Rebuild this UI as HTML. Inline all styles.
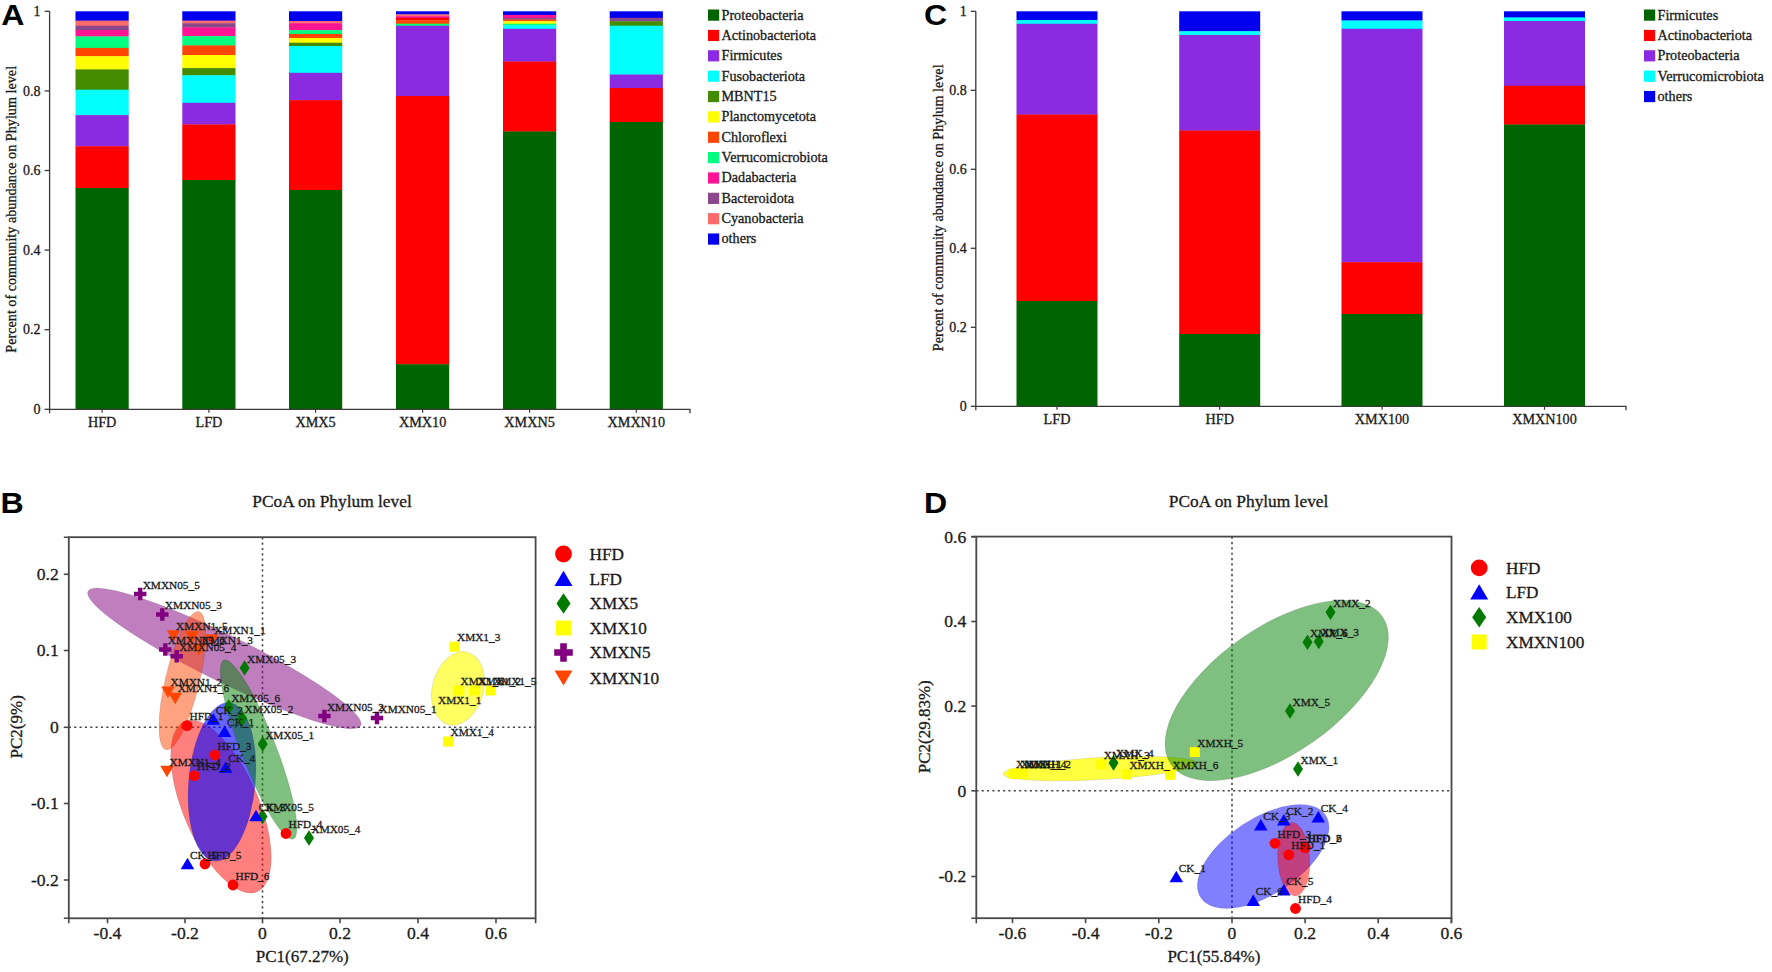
<!DOCTYPE html>
<html lang="en"><head><meta charset="utf-8"><title>Figure</title>
<style>
html,body{margin:0;padding:0;background:#fff;}
body{width:1772px;height:972px;overflow:hidden;}
svg{display:block;position:absolute;left:0;top:0;}
svg text{font-family:"Liberation Serif", "DejaVu Serif", serif;fill:#1a1a1a;stroke:#1a1a1a;stroke-width:0.3px;}
</style></head><body>
<svg width="1772" height="972" viewBox="0 0 1772 972">
<rect x="0" y="0" width="1772" height="972" fill="#ffffff"/>
<rect x="75.50" y="11.30" width="53.20" height="9.65" fill="#0000ee"/>
<rect x="75.50" y="20.65" width="53.20" height="5.35" fill="#ff6a6a"/>
<rect x="75.50" y="25.70" width="53.20" height="4.60" fill="#8b4789"/>
<rect x="75.50" y="30.00" width="53.20" height="6.70" fill="#ff1493"/>
<rect x="75.50" y="36.40" width="53.20" height="11.80" fill="#00ff7f"/>
<rect x="75.50" y="47.90" width="53.20" height="8.60" fill="#ff4500"/>
<rect x="75.50" y="56.20" width="53.20" height="13.50" fill="#ffff00"/>
<rect x="75.50" y="69.40" width="53.20" height="20.60" fill="#458b00"/>
<rect x="75.50" y="89.70" width="53.20" height="25.70" fill="#00ffff"/>
<rect x="75.50" y="115.10" width="53.20" height="31.45" fill="#8a2be2"/>
<rect x="75.50" y="146.25" width="53.20" height="42.05" fill="#ff0000"/>
<rect x="75.50" y="188.00" width="53.20" height="221.60" fill="#006400"/>
<rect x="182.30" y="11.30" width="53.20" height="9.65" fill="#0000ee"/>
<rect x="182.30" y="20.65" width="53.20" height="2.85" fill="#ff6a6a"/>
<rect x="182.30" y="23.20" width="53.20" height="4.50" fill="#8b4789"/>
<rect x="182.30" y="27.40" width="53.20" height="9.00" fill="#ff1493"/>
<rect x="182.30" y="36.10" width="53.20" height="9.60" fill="#00ff7f"/>
<rect x="182.30" y="45.40" width="53.20" height="9.90" fill="#ff4500"/>
<rect x="182.30" y="55.00" width="53.20" height="13.40" fill="#ffff00"/>
<rect x="182.30" y="68.10" width="53.20" height="7.50" fill="#458b00"/>
<rect x="182.30" y="75.30" width="53.20" height="27.80" fill="#00ffff"/>
<rect x="182.30" y="102.80" width="53.20" height="21.90" fill="#8a2be2"/>
<rect x="182.30" y="124.40" width="53.20" height="55.90" fill="#ff0000"/>
<rect x="182.30" y="180.00" width="53.20" height="229.60" fill="#006400"/>
<rect x="289.00" y="11.30" width="53.20" height="10.00" fill="#0000ee"/>
<rect x="289.00" y="21.00" width="53.20" height="2.50" fill="#ff6a6a"/>
<rect x="289.00" y="23.20" width="53.20" height="7.20" fill="#ff1493"/>
<rect x="289.00" y="30.10" width="53.20" height="4.10" fill="#00ff7f"/>
<rect x="289.00" y="33.90" width="53.20" height="4.50" fill="#ff4500"/>
<rect x="289.00" y="38.10" width="53.20" height="4.90" fill="#ffff00"/>
<rect x="289.00" y="42.70" width="53.20" height="3.60" fill="#458b00"/>
<rect x="289.00" y="46.00" width="53.20" height="27.10" fill="#00ffff"/>
<rect x="289.00" y="72.80" width="53.20" height="27.70" fill="#8a2be2"/>
<rect x="289.00" y="100.20" width="53.20" height="90.10" fill="#ff0000"/>
<rect x="289.00" y="190.00" width="53.20" height="219.60" fill="#006400"/>
<rect x="396.00" y="11.30" width="53.20" height="3.40" fill="#0000ee"/>
<rect x="396.00" y="14.40" width="53.20" height="2.10" fill="#ff6a6a"/>
<rect x="396.00" y="16.20" width="53.20" height="1.90" fill="#ff1493"/>
<rect x="396.00" y="17.80" width="53.20" height="2.80" fill="#ff0000"/>
<rect x="396.00" y="20.30" width="53.20" height="3.70" fill="#ff4500"/>
<rect x="396.00" y="23.70" width="53.20" height="2.30" fill="#00ff7f"/>
<rect x="396.00" y="25.70" width="53.20" height="70.60" fill="#8a2be2"/>
<rect x="396.00" y="96.00" width="53.20" height="268.55" fill="#ff0000"/>
<rect x="396.00" y="364.25" width="53.20" height="45.35" fill="#006400"/>
<rect x="503.00" y="11.30" width="53.20" height="3.90" fill="#0000ee"/>
<rect x="503.00" y="14.90" width="53.20" height="3.20" fill="#ff1493"/>
<rect x="503.00" y="17.80" width="53.20" height="2.00" fill="#8b4789"/>
<rect x="503.00" y="19.50" width="53.20" height="2.00" fill="#ff4500"/>
<rect x="503.00" y="21.20" width="53.20" height="2.80" fill="#ffff00"/>
<rect x="503.00" y="23.70" width="53.20" height="2.00" fill="#00ff7f"/>
<rect x="503.00" y="25.40" width="53.20" height="3.70" fill="#00ffff"/>
<rect x="503.00" y="28.80" width="53.20" height="33.00" fill="#8a2be2"/>
<rect x="503.00" y="61.50" width="53.20" height="70.30" fill="#ff0000"/>
<rect x="503.00" y="131.50" width="53.20" height="278.10" fill="#006400"/>
<rect x="609.70" y="11.30" width="53.20" height="6.80" fill="#0000ee"/>
<rect x="609.70" y="17.80" width="53.20" height="3.70" fill="#8b4789"/>
<rect x="609.70" y="21.20" width="53.20" height="4.80" fill="#458b00"/>
<rect x="609.70" y="25.70" width="53.20" height="49.10" fill="#00ffff"/>
<rect x="609.70" y="74.50" width="53.20" height="13.80" fill="#8a2be2"/>
<rect x="609.70" y="88.00" width="53.20" height="34.30" fill="#ff0000"/>
<rect x="609.70" y="122.00" width="53.20" height="287.60" fill="#006400"/>
<path d="M49.6 11.3 V409.3 H690 v4" fill="none" stroke="#3a3a3a" stroke-width="1.3"/>
<path d="M44.6 409.30 H49.6" stroke="#3a3a3a" stroke-width="1.3"/>
<text x="40.6" y="413.90" text-anchor="end" font-size="14">0</text>
<path d="M44.6 329.70 H49.6" stroke="#3a3a3a" stroke-width="1.3"/>
<text x="40.6" y="334.30" text-anchor="end" font-size="14">0.2</text>
<path d="M44.6 250.10 H49.6" stroke="#3a3a3a" stroke-width="1.3"/>
<text x="40.6" y="254.70" text-anchor="end" font-size="14">0.4</text>
<path d="M44.6 170.50 H49.6" stroke="#3a3a3a" stroke-width="1.3"/>
<text x="40.6" y="175.10" text-anchor="end" font-size="14">0.6</text>
<path d="M44.6 90.90 H49.6" stroke="#3a3a3a" stroke-width="1.3"/>
<text x="40.6" y="95.50" text-anchor="end" font-size="14">0.8</text>
<path d="M44.6 11.30 H49.6" stroke="#3a3a3a" stroke-width="1.3"/>
<text x="40.6" y="15.90" text-anchor="end" font-size="14">1</text>
<path d="M49.6 409.3 v4" stroke="#3a3a3a" stroke-width="1.3"/>
<path d="M102.10 409.3 v3.5" stroke="#3a3a3a" stroke-width="1.2"/>
<text x="102.10" y="427" text-anchor="middle" font-size="14.2">HFD</text>
<path d="M208.90 409.3 v3.5" stroke="#3a3a3a" stroke-width="1.2"/>
<text x="208.90" y="427" text-anchor="middle" font-size="14.2">LFD</text>
<path d="M315.60 409.3 v3.5" stroke="#3a3a3a" stroke-width="1.2"/>
<text x="315.60" y="427" text-anchor="middle" font-size="14.2">XMX5</text>
<path d="M422.60 409.3 v3.5" stroke="#3a3a3a" stroke-width="1.2"/>
<text x="422.60" y="427" text-anchor="middle" font-size="14.2">XMX10</text>
<path d="M529.60 409.3 v3.5" stroke="#3a3a3a" stroke-width="1.2"/>
<text x="529.60" y="427" text-anchor="middle" font-size="14.2">XMXN5</text>
<path d="M636.30 409.3 v3.5" stroke="#3a3a3a" stroke-width="1.2"/>
<text x="636.30" y="427" text-anchor="middle" font-size="14.2">XMXN10</text>
<text transform="translate(16 209.3) rotate(-90)" text-anchor="middle" font-size="14.2">Percent of community abundance on Phylum level</text>
<rect x="708" y="9.50" width="11.2" height="11.2" fill="#006400"/>
<text x="721.5" y="19.50" font-size="14.2">Proteobacteria</text>
<rect x="708" y="29.86" width="11.2" height="11.2" fill="#ff0000"/>
<text x="721.5" y="39.86" font-size="14.2">Actinobacteriota</text>
<rect x="708" y="50.22" width="11.2" height="11.2" fill="#8a2be2"/>
<text x="721.5" y="60.22" font-size="14.2">Firmicutes</text>
<rect x="708" y="70.58" width="11.2" height="11.2" fill="#00ffff"/>
<text x="721.5" y="80.58" font-size="14.2">Fusobacteriota</text>
<rect x="708" y="90.94" width="11.2" height="11.2" fill="#458b00"/>
<text x="721.5" y="100.94" font-size="14.2">MBNT15</text>
<rect x="708" y="111.30" width="11.2" height="11.2" fill="#ffff00"/>
<text x="721.5" y="121.30" font-size="14.2">Planctomycetota</text>
<rect x="708" y="131.66" width="11.2" height="11.2" fill="#ff4500"/>
<text x="721.5" y="141.66" font-size="14.2">Chloroflexi</text>
<rect x="708" y="152.02" width="11.2" height="11.2" fill="#00ff7f"/>
<text x="721.5" y="162.02" font-size="14.2">Verrucomicrobiota</text>
<rect x="708" y="172.38" width="11.2" height="11.2" fill="#ff1493"/>
<text x="721.5" y="182.38" font-size="14.2">Dadabacteria</text>
<rect x="708" y="192.74" width="11.2" height="11.2" fill="#8b4789"/>
<text x="721.5" y="202.74" font-size="14.2">Bacteroidota</text>
<rect x="708" y="213.10" width="11.2" height="11.2" fill="#ff6a6a"/>
<text x="721.5" y="223.10" font-size="14.2">Cyanobacteria</text>
<rect x="708" y="233.46" width="11.2" height="11.2" fill="#0000ee"/>
<text x="721.5" y="243.46" font-size="14.2">others</text>
<rect x="1016.50" y="11.30" width="81.00" height="9.00" fill="#0000ee"/>
<rect x="1016.50" y="20.00" width="81.00" height="4.05" fill="#00ffff"/>
<rect x="1016.50" y="23.75" width="81.00" height="91.05" fill="#8a2be2"/>
<rect x="1016.50" y="114.50" width="81.00" height="186.80" fill="#ff0000"/>
<rect x="1016.50" y="301.00" width="81.00" height="105.60" fill="#006400"/>
<rect x="1179.20" y="11.30" width="81.00" height="20.25" fill="#0000ee"/>
<rect x="1179.20" y="31.25" width="81.00" height="4.05" fill="#00ffff"/>
<rect x="1179.20" y="35.00" width="81.00" height="95.80" fill="#8a2be2"/>
<rect x="1179.20" y="130.50" width="81.00" height="203.80" fill="#ff0000"/>
<rect x="1179.20" y="334.00" width="81.00" height="72.60" fill="#006400"/>
<rect x="1341.50" y="11.30" width="81.00" height="9.50" fill="#0000ee"/>
<rect x="1341.50" y="20.50" width="81.00" height="8.55" fill="#00ffff"/>
<rect x="1341.50" y="28.75" width="81.00" height="233.80" fill="#8a2be2"/>
<rect x="1341.50" y="262.25" width="81.00" height="52.05" fill="#ff0000"/>
<rect x="1341.50" y="314.00" width="81.00" height="92.60" fill="#006400"/>
<rect x="1504.00" y="11.30" width="81.00" height="6.50" fill="#0000ee"/>
<rect x="1504.00" y="17.50" width="81.00" height="3.80" fill="#00ffff"/>
<rect x="1504.00" y="21.00" width="81.00" height="65.05" fill="#8a2be2"/>
<rect x="1504.00" y="85.75" width="81.00" height="39.05" fill="#ff0000"/>
<rect x="1504.00" y="124.50" width="81.00" height="282.10" fill="#006400"/>
<path d="M975.8 11.3 V406.3 H1626 v4" fill="none" stroke="#3a3a3a" stroke-width="1.3"/>
<path d="M970.8 406.30 H975.8" stroke="#3a3a3a" stroke-width="1.3"/>
<text x="966.8" y="410.90" text-anchor="end" font-size="14">0</text>
<path d="M970.8 327.30 H975.8" stroke="#3a3a3a" stroke-width="1.3"/>
<text x="966.8" y="331.90" text-anchor="end" font-size="14">0.2</text>
<path d="M970.8 248.30 H975.8" stroke="#3a3a3a" stroke-width="1.3"/>
<text x="966.8" y="252.90" text-anchor="end" font-size="14">0.4</text>
<path d="M970.8 169.30 H975.8" stroke="#3a3a3a" stroke-width="1.3"/>
<text x="966.8" y="173.90" text-anchor="end" font-size="14">0.6</text>
<path d="M970.8 90.30 H975.8" stroke="#3a3a3a" stroke-width="1.3"/>
<text x="966.8" y="94.90" text-anchor="end" font-size="14">0.8</text>
<path d="M970.8 11.30 H975.8" stroke="#3a3a3a" stroke-width="1.3"/>
<text x="966.8" y="15.90" text-anchor="end" font-size="14">1</text>
<path d="M975.8 406.3 v4" stroke="#3a3a3a" stroke-width="1.3"/>
<path d="M1057.00 406.3 v3.5" stroke="#3a3a3a" stroke-width="1.2"/>
<text x="1057.00" y="423.5" text-anchor="middle" font-size="14.2">LFD</text>
<path d="M1219.70 406.3 v3.5" stroke="#3a3a3a" stroke-width="1.2"/>
<text x="1219.70" y="423.5" text-anchor="middle" font-size="14.2">HFD</text>
<path d="M1382.00 406.3 v3.5" stroke="#3a3a3a" stroke-width="1.2"/>
<text x="1382.00" y="423.5" text-anchor="middle" font-size="14.2">XMX100</text>
<path d="M1544.50 406.3 v3.5" stroke="#3a3a3a" stroke-width="1.2"/>
<text x="1544.50" y="423.5" text-anchor="middle" font-size="14.2">XMXN100</text>
<text transform="translate(943 207.8) rotate(-90)" text-anchor="middle" font-size="14.2">Percent of community abundance on Phylum level</text>
<rect x="1644" y="9.50" width="11.2" height="11.2" fill="#006400"/>
<text x="1657.5" y="19.50" font-size="14.2">Firmicutes</text>
<rect x="1644" y="29.86" width="11.2" height="11.2" fill="#ff0000"/>
<text x="1657.5" y="39.86" font-size="14.2">Actinobacteriota</text>
<rect x="1644" y="50.22" width="11.2" height="11.2" fill="#8a2be2"/>
<text x="1657.5" y="60.22" font-size="14.2">Proteobacteria</text>
<rect x="1644" y="70.58" width="11.2" height="11.2" fill="#00ffff"/>
<text x="1657.5" y="80.58" font-size="14.2">Verrucomicrobiota</text>
<rect x="1644" y="90.94" width="11.2" height="11.2" fill="#0000ee"/>
<text x="1657.5" y="100.94" font-size="14.2">others</text>
<text transform="translate(1.2 24.7) scale(1.07 1)" style='font-family:"Liberation Sans", "DejaVu Sans", sans-serif;font-weight:bold;font-size:30px;fill:#000;stroke:none'>A</text>
<text transform="translate(924 24.7) scale(1.07 1)" style='font-family:"Liberation Sans", "DejaVu Sans", sans-serif;font-weight:bold;font-size:30px;fill:#000;stroke:none'>C</text>
<text transform="translate(0.5 512.7) scale(1.07 1)" style='font-family:"Liberation Sans", "DejaVu Sans", sans-serif;font-weight:bold;font-size:30px;fill:#000;stroke:none'>B</text>
<text transform="translate(924 512.7) scale(1.07 1)" style='font-family:"Liberation Sans", "DejaVu Sans", sans-serif;font-weight:bold;font-size:30px;fill:#000;stroke:none'>D</text>
<path d="M262.5 537.2 V918.3" stroke="#484848" stroke-width="1.6" stroke-dasharray="2.2 3.15"/>
<path d="M68.8 727.3 H535.6" stroke="#484848" stroke-width="1.6" stroke-dasharray="2.2 3.15"/>
<ellipse cx="0" cy="0" rx="152" ry="23.3" transform="translate(224.4 658.4) rotate(26.2)" fill="#800080" fill-opacity="0.5" stroke="#000" stroke-opacity="0.12" stroke-width="0.8"/>
<ellipse cx="0" cy="0" rx="71" ry="17.1" transform="translate(182.4 680.6) rotate(-76.6)" fill="#ff4500" fill-opacity="0.5" stroke="#000" stroke-opacity="0.12" stroke-width="0.8"/>
<ellipse cx="0" cy="0" rx="92.5" ry="37.9" transform="translate(221 806.6) rotate(67)" fill="#ff0000" fill-opacity="0.5" stroke="#000" stroke-opacity="0.12" stroke-width="0.8"/>
<ellipse cx="0" cy="0" rx="79.6" ry="33.3" transform="translate(222 781.8) rotate(-84.7)" fill="#0000ff" fill-opacity="0.6" stroke="#000" stroke-opacity="0.12" stroke-width="0.8"/>
<ellipse cx="0" cy="0" rx="96" ry="17.5" transform="translate(258.6 749.6) rotate(68.8)" fill="#008000" fill-opacity="0.5" stroke="#000" stroke-opacity="0.12" stroke-width="0.8"/>
<ellipse cx="0" cy="0" rx="37.5" ry="25.5" transform="translate(458 688.4) rotate(-75)" fill="#ffff00" fill-opacity="0.62" stroke="#000" stroke-opacity="0.12" stroke-width="0.8"/>
<rect x="68.8" y="537.2" width="466.8" height="381.0999999999999" fill="none" stroke="#484848" stroke-width="1.8"/>
<path d="M107.5 918.3 v5" stroke="#484848" stroke-width="1.6"/>
<text x="107.5" y="939.1" text-anchor="middle" font-size="17.6" stroke-width="0.5">-0.4</text>
<path d="M185.0 918.3 v5" stroke="#484848" stroke-width="1.6"/>
<text x="185.0" y="939.1" text-anchor="middle" font-size="17.6" stroke-width="0.5">-0.2</text>
<path d="M262.5 918.3 v5" stroke="#484848" stroke-width="1.6"/>
<text x="262.5" y="939.1" text-anchor="middle" font-size="17.6" stroke-width="0.5">0</text>
<path d="M340.0 918.3 v5" stroke="#484848" stroke-width="1.6"/>
<text x="340.0" y="939.1" text-anchor="middle" font-size="17.6" stroke-width="0.5">0.2</text>
<path d="M418.0 918.3 v5" stroke="#484848" stroke-width="1.6"/>
<text x="418.0" y="939.1" text-anchor="middle" font-size="17.6" stroke-width="0.5">0.4</text>
<path d="M496.0 918.3 v5" stroke="#484848" stroke-width="1.6"/>
<text x="496.0" y="939.1" text-anchor="middle" font-size="17.6" stroke-width="0.5">0.6</text>
<path d="M63.8 574.3 H68.8" stroke="#484848" stroke-width="1.6"/>
<text x="58.8" y="580.2" text-anchor="end" font-size="17.6" stroke-width="0.5">0.2</text>
<path d="M63.8 650.5 H68.8" stroke="#484848" stroke-width="1.6"/>
<text x="58.8" y="656.4" text-anchor="end" font-size="17.6" stroke-width="0.5">0.1</text>
<path d="M63.8 727.3 H68.8" stroke="#484848" stroke-width="1.6"/>
<text x="58.8" y="733.2" text-anchor="end" font-size="17.6" stroke-width="0.5">0</text>
<path d="M63.8 803.5 H68.8" stroke="#484848" stroke-width="1.6"/>
<text x="58.8" y="809.4" text-anchor="end" font-size="17.6" stroke-width="0.5">-0.1</text>
<path d="M63.8 880.0 H68.8" stroke="#484848" stroke-width="1.6"/>
<text x="58.8" y="885.9" text-anchor="end" font-size="17.6" stroke-width="0.5">-0.2</text>
<path d="M63.8 537.2 H68.8 M63.8 918.3 H68.8 v5 M535.6 918.3 v5" stroke="#484848" stroke-width="1.6" fill="none"/>
<text x="332.0" y="507.2" text-anchor="middle" font-size="17.35">PCoA on Phylum level</text>
<text x="302.2" y="962" text-anchor="middle" font-size="17">PC1(67.27%)</text>
<text transform="translate(22 726.8) rotate(-90)" text-anchor="middle" font-size="17">PC2(9%)</text>
<path d="M134.0 591.8 H138.0 V587.8 H142.4 V591.8 H146.4 V596.2 H142.4 V600.2 H138.0 V596.2 H134.0 Z" fill="#800080"/>
<path d="M156.1 612.3 H160.1 V608.3 H164.5 V612.3 H168.5 V616.7 H164.5 V620.7 H160.1 V616.7 H156.1 Z" fill="#800080"/>
<path d="M159.1 647.3 H163.1 V643.3 H167.5 V647.3 H171.5 V651.7 H167.5 V655.7 H163.1 V651.7 H159.1 Z" fill="#800080"/>
<path d="M170.5 654.1 H174.5 V650.1 H178.9 V654.1 H182.9 V658.5 H178.9 V662.5 H174.5 V658.5 H170.5 Z" fill="#800080"/>
<path d="M318.2 713.8 H322.2 V709.8 H326.6 V713.8 H330.6 V718.2 H326.6 V722.2 H322.2 V718.2 H318.2 Z" fill="#800080"/>
<path d="M370.8 715.8 H374.8 V711.8 H379.2 V715.8 H383.2 V720.2 H379.2 V724.2 H374.8 V720.2 H370.8 Z" fill="#800080"/>
<path d="M166.8 630.3 L180.4 630.3 L173.6 641.8 Z" fill="#ff4500"/>
<path d="M185.2 631.3 L198.8 631.3 L192.0 642.8 Z" fill="#ff4500"/>
<path d="M204.9 634.2 L218.5 634.2 L211.7 645.7 Z" fill="#ff4500"/>
<path d="M192.2 643.8 L205.8 643.8 L199.0 655.3 Z" fill="#ff4500"/>
<path d="M161.2 686.5 L174.8 686.5 L168.0 698.0 Z" fill="#ff4500"/>
<path d="M168.4 692.7 L182.0 692.7 L175.2 704.2 Z" fill="#ff4500"/>
<path d="M160.2 765.8 L173.8 765.8 L167.0 777.3 Z" fill="#ff4500"/>
<path d="M239.6 668.0 L244.6 660.2 L249.6 668.0 L244.6 675.8 Z" fill="#007a00"/>
<path d="M223.7 707.0 L228.7 699.2 L233.7 707.0 L228.7 714.8 Z" fill="#007a00"/>
<path d="M237.0 718.4 L242.0 710.6 L247.0 718.4 L242.0 726.2 Z" fill="#007a00"/>
<path d="M257.7 744.0 L262.7 736.2 L267.7 744.0 L262.7 751.8 Z" fill="#007a00"/>
<path d="M257.5 816.5 L262.5 808.7 L267.5 816.5 L262.5 824.3 Z" fill="#007a00"/>
<path d="M304.0 838.0 L309.0 830.2 L314.0 838.0 L309.0 845.8 Z" fill="#007a00"/>
<path d="M206.5 724.7 L220.1 724.7 L213.3 713.2 Z" fill="#0000ff"/>
<path d="M217.8 737.0 L231.4 737.0 L224.6 725.5 Z" fill="#0000ff"/>
<path d="M218.9 772.9 L232.5 772.9 L225.7 761.4 Z" fill="#0000ff"/>
<path d="M249.2 821.2 L262.8 821.2 L256.0 809.7 Z" fill="#0000ff"/>
<path d="M180.7 869.2 L194.3 869.2 L187.5 857.7 Z" fill="#0000ff"/>
<circle cx="187.0" cy="725.6" r="5.40" fill="#ff0000"/>
<circle cx="215.0" cy="755.0" r="5.40" fill="#ff0000"/>
<circle cx="194.5" cy="775.7" r="5.40" fill="#ff0000"/>
<circle cx="286.0" cy="833.5" r="5.40" fill="#ff0000"/>
<circle cx="205.0" cy="864.0" r="5.40" fill="#ff0000"/>
<circle cx="233.0" cy="885.0" r="5.40" fill="#ff0000"/>
<rect x="449.5" y="641.7" width="10.0" height="10.0" fill="#ffff00"/>
<rect x="453.0" y="685.5" width="10.0" height="10.0" fill="#ffff00"/>
<rect x="470.0" y="685.5" width="10.0" height="10.0" fill="#ffff00"/>
<rect x="485.5" y="685.5" width="10.0" height="10.0" fill="#ffff00"/>
<rect x="443.0" y="736.5" width="10.0" height="10.0" fill="#ffff00"/>
<text x="142.7" y="588.5" font-size="11.3" fill="#222">XMXN05_5</text>
<text x="164.8" y="609.0" font-size="11.3" fill="#222">XMXN05_3</text>
<text x="167.8" y="644.0" font-size="11.3" fill="#222">XMXN05_6</text>
<text x="179.2" y="650.8" font-size="11.3" fill="#222">XMXN05_4</text>
<text x="326.9" y="710.5" font-size="11.3" fill="#222">XMXN05_2</text>
<text x="379.5" y="712.5" font-size="11.3" fill="#222">XMXN05_1</text>
<text x="176.1" y="630.0" font-size="11.3" fill="#222">XMXN1_5</text>
<text x="214.2" y="633.9" font-size="11.3" fill="#222">XMXN1_1</text>
<text x="201.5" y="643.5" font-size="11.3" fill="#222">XMXN1_3</text>
<text x="170.5" y="686.2" font-size="11.3" fill="#222">XMXN1_2</text>
<text x="177.7" y="692.4" font-size="11.3" fill="#222">XMXN1_6</text>
<text x="169.5" y="765.5" font-size="11.3" fill="#222">XMXN1_4</text>
<text x="247.1" y="662.5" font-size="11.3" fill="#222">XMX05_3</text>
<text x="231.2" y="701.5" font-size="11.3" fill="#222">XMX05_6</text>
<text x="244.5" y="712.9" font-size="11.3" fill="#222">XMX05_2</text>
<text x="265.2" y="738.5" font-size="11.3" fill="#222">XMX05_1</text>
<text x="265.0" y="811.0" font-size="11.3" fill="#222">XMX05_5</text>
<text x="311.5" y="832.5" font-size="11.3" fill="#222">XMX05_4</text>
<text x="215.8" y="714.0" font-size="11.3" fill="#222">CK_2</text>
<text x="227.1" y="726.3" font-size="11.3" fill="#222">CK_1</text>
<text x="228.2" y="762.2" font-size="11.3" fill="#222">CK_4</text>
<text x="258.5" y="810.5" font-size="11.3" fill="#222">CK_3</text>
<text x="190.0" y="858.5" font-size="11.3" fill="#222">CK_5</text>
<text x="189.5" y="720.1" font-size="11.3" fill="#222">HFD_1</text>
<text x="217.5" y="749.5" font-size="11.3" fill="#222">HFD_3</text>
<text x="197.0" y="770.2" font-size="11.3" fill="#222">HFD_2</text>
<text x="288.5" y="828.0" font-size="11.3" fill="#222">HFD_4</text>
<text x="207.5" y="858.5" font-size="11.3" fill="#222">HFD_5</text>
<text x="235.5" y="879.5" font-size="11.3" fill="#222">HFD_6</text>
<text x="457.0" y="641.2" font-size="11.3" fill="#222">XMX1_3</text>
<text x="460.5" y="685.0" font-size="11.3" fill="#222">XMX1_6</text>
<text x="477.5" y="685.0" font-size="11.3" fill="#222">XMX1_2</text>
<text x="493.0" y="685.0" font-size="11.3" fill="#222">XMX1_5</text>
<text x="450.5" y="736.0" font-size="11.3" fill="#222">XMX1_4</text>
<text x="438" y="703.5" font-size="11.3" fill="#222">XMX1_1</text>
<circle cx="563.5" cy="554.0" r="8.4" fill="#ff0000"/>
<text x="589.5" y="559.8" font-size="17.2">HFD</text>
<path d="M554.5 586.0 L572.5 586.0 L563.5 570.8 Z" fill="#0000ff"/>
<text x="589.5" y="584.8" font-size="17.2">LFD</text>
<path d="M556.5 603.5 L563.5 593.2 L570.5 603.5 L563.5 613.8 Z" fill="#007a00"/>
<text x="589.5" y="609.3" font-size="17.2">XMX5</text>
<rect x="556.0" y="620.5" width="15" height="15" fill="#ffff00"/>
<text x="589.5" y="633.8" font-size="17.2">XMX10</text>
<path d="M554.2 649.2 H560.2 V643.2 H566.8 V649.2 H572.8 V655.8 H566.8 V661.8 H560.2 V655.8 H554.2 Z" fill="#800080"/>
<text x="589.5" y="658.3" font-size="17.2">XMXN5</text>
<path d="M554.5 670.4 L572.5 670.4 L563.5 685.6 Z" fill="#ff4500"/>
<text x="589.5" y="683.8" font-size="17.2">XMXN10</text>
<path d="M1232 536.6 V918.2" stroke="#484848" stroke-width="1.6" stroke-dasharray="2.2 3.15"/>
<path d="M976.3 790.8 H1451.5" stroke="#484848" stroke-width="1.6" stroke-dasharray="2.2 3.15"/>
<ellipse cx="0" cy="0" rx="97" ry="11" transform="translate(1100 768.6) rotate(-3.2)" fill="#ffff00" fill-opacity="0.75" stroke="#000" stroke-opacity="0.12" stroke-width="0.8"/>
<ellipse cx="0" cy="0" rx="129" ry="63" transform="translate(1276.7 690.5) rotate(-35)" fill="#008000" fill-opacity="0.5" stroke="#000" stroke-opacity="0.12" stroke-width="0.8"/>
<ellipse cx="0" cy="0" rx="74.8" ry="37.9" transform="translate(1263.2 856.5) rotate(-33.5)" fill="#0000ff" fill-opacity="0.5" stroke="#000" stroke-opacity="0.12" stroke-width="0.8"/>
<ellipse cx="0" cy="0" rx="36.8" ry="16" transform="translate(1293.7 859.2) rotate(87)" fill="#ff0000" fill-opacity="0.5" stroke="#000" stroke-opacity="0.12" stroke-width="0.8"/>
<rect x="976.3" y="536.6" width="475.20000000000005" height="381.6" fill="none" stroke="#484848" stroke-width="1.8"/>
<path d="M1012.5 918.2 v5" stroke="#484848" stroke-width="1.6"/>
<text x="1012.5" y="939.0" text-anchor="middle" font-size="17.6" stroke-width="0.5">-0.6</text>
<path d="M1085.6 918.2 v5" stroke="#484848" stroke-width="1.6"/>
<text x="1085.6" y="939.0" text-anchor="middle" font-size="17.6" stroke-width="0.5">-0.4</text>
<path d="M1158.8 918.2 v5" stroke="#484848" stroke-width="1.6"/>
<text x="1158.8" y="939.0" text-anchor="middle" font-size="17.6" stroke-width="0.5">-0.2</text>
<path d="M1232.0 918.2 v5" stroke="#484848" stroke-width="1.6"/>
<text x="1232.0" y="939.0" text-anchor="middle" font-size="17.6" stroke-width="0.5">0</text>
<path d="M1305.1 918.2 v5" stroke="#484848" stroke-width="1.6"/>
<text x="1305.1" y="939.0" text-anchor="middle" font-size="17.6" stroke-width="0.5">0.2</text>
<path d="M1378.2 918.2 v5" stroke="#484848" stroke-width="1.6"/>
<text x="1378.2" y="939.0" text-anchor="middle" font-size="17.6" stroke-width="0.5">0.4</text>
<path d="M1451.4 918.2 v5" stroke="#484848" stroke-width="1.6"/>
<text x="1451.4" y="939.0" text-anchor="middle" font-size="17.6" stroke-width="0.5">0.6</text>
<path d="M971.3 536.8 H976.3" stroke="#484848" stroke-width="1.6"/>
<text x="966.3" y="542.7" text-anchor="end" font-size="17.6" stroke-width="0.5">0.6</text>
<path d="M971.3 621.5 H976.3" stroke="#484848" stroke-width="1.6"/>
<text x="966.3" y="627.4" text-anchor="end" font-size="17.6" stroke-width="0.5">0.4</text>
<path d="M971.3 706.1 H976.3" stroke="#484848" stroke-width="1.6"/>
<text x="966.3" y="712.0" text-anchor="end" font-size="17.6" stroke-width="0.5">0.2</text>
<path d="M971.3 790.8 H976.3" stroke="#484848" stroke-width="1.6"/>
<text x="966.3" y="796.7" text-anchor="end" font-size="17.6" stroke-width="0.5">0</text>
<path d="M971.3 876.5 H976.3" stroke="#484848" stroke-width="1.6"/>
<text x="966.3" y="882.4" text-anchor="end" font-size="17.6" stroke-width="0.5">-0.2</text>
<path d="M971.3 536.6 H976.3 M971.3 918.2 H976.3 v5 M1451.5 918.2 v5" stroke="#484848" stroke-width="1.6" fill="none"/>
<text x="1248.6" y="507.2" text-anchor="middle" font-size="17.35">PCoA on Phylum level</text>
<text x="1213.9" y="962" text-anchor="middle" font-size="17">PC1(55.84%)</text>
<text transform="translate(930 726.8) rotate(-90)" text-anchor="middle" font-size="17">PC2(29.83%)</text>
<rect x="1008.5" y="768.8" width="10.0" height="10.0" fill="#ffff00"/>
<rect x="1013.0" y="768.8" width="10.0" height="10.0" fill="#ffff00"/>
<rect x="1017.5" y="768.8" width="10.0" height="10.0" fill="#ffff00"/>
<rect x="1096.3" y="759.5" width="10.0" height="10.0" fill="#ffff00"/>
<rect x="1121.9" y="769.4" width="10.0" height="10.0" fill="#ffff00"/>
<rect x="1165.0" y="769.7" width="10.0" height="10.0" fill="#ffff00"/>
<rect x="1189.8" y="747.1" width="10.0" height="10.0" fill="#ffff00"/>
<path d="M1108.5 762.9 L1113.5 755.1 L1118.5 762.9 L1113.5 770.7 Z" fill="#007a00"/>
<path d="M1293.0 769.0 L1298.0 761.2 L1303.0 769.0 L1298.0 776.8 Z" fill="#007a00"/>
<path d="M1325.5 612.3 L1330.5 604.5 L1335.5 612.3 L1330.5 620.1 Z" fill="#007a00"/>
<path d="M1302.5 642.3 L1307.5 634.5 L1312.5 642.3 L1307.5 650.1 Z" fill="#007a00"/>
<path d="M1313.8 641.5 L1318.8 633.7 L1323.8 641.5 L1318.8 649.3 Z" fill="#007a00"/>
<path d="M1285.0 711.0 L1290.0 703.2 L1295.0 711.0 L1290.0 718.8 Z" fill="#007a00"/>
<path d="M1169.5 882.2 L1183.1 882.2 L1176.3 870.7 Z" fill="#0000ff"/>
<path d="M1254.0 830.5 L1267.6 830.5 L1260.8 819.0 Z" fill="#0000ff"/>
<path d="M1277.0 825.5 L1290.6 825.5 L1283.8 814.0 Z" fill="#0000ff"/>
<path d="M1311.5 822.5 L1325.1 822.5 L1318.3 811.0 Z" fill="#0000ff"/>
<path d="M1277.0 895.5 L1290.6 895.5 L1283.8 884.0 Z" fill="#0000ff"/>
<path d="M1246.5 906.0 L1260.1 906.0 L1253.3 894.5 Z" fill="#0000ff"/>
<circle cx="1275.0" cy="843.3" r="5.40" fill="#ff0000"/>
<circle cx="1288.8" cy="854.8" r="5.40" fill="#ff0000"/>
<circle cx="1305.0" cy="847.8" r="5.40" fill="#ff0000"/>
<circle cx="1305.4" cy="847.4" r="5.40" fill="#ff0000"/>
<circle cx="1295.5" cy="908.5" r="5.40" fill="#ff0000"/>
<text x="1016.0" y="768.3" font-size="11.3" fill="#222">XMXH_1</text>
<text x="1020.5" y="768.3" font-size="11.3" fill="#222">XMXH_4</text>
<text x="1025.0" y="768.3" font-size="11.3" fill="#222">XMXH_2</text>
<text x="1103.8" y="759.0" font-size="11.3" fill="#222">XMXH_3</text>
<text x="1129.4" y="768.9" font-size="11.3" fill="#222">XMXH_</text>
<text x="1172.5" y="769.2" font-size="11.3" fill="#222">XMXH_6</text>
<text x="1197.3" y="746.6" font-size="11.3" fill="#222">XMXH_5</text>
<text x="1116.0" y="757.4" font-size="11.3" fill="#222">XMX_4</text>
<text x="1300.5" y="763.5" font-size="11.3" fill="#222">XMX_1</text>
<text x="1333.0" y="606.8" font-size="11.3" fill="#222">XMX_2</text>
<text x="1310.0" y="636.8" font-size="11.3" fill="#222">XMX_6</text>
<text x="1321.3" y="636.0" font-size="11.3" fill="#222">XMX_3</text>
<text x="1292.5" y="705.5" font-size="11.3" fill="#222">XMX_5</text>
<text x="1178.8" y="871.5" font-size="11.3" fill="#222">CK_1</text>
<text x="1263.3" y="819.8" font-size="11.3" fill="#222">CK_3</text>
<text x="1286.3" y="814.8" font-size="11.3" fill="#222">CK_2</text>
<text x="1320.8" y="811.8" font-size="11.3" fill="#222">CK_4</text>
<text x="1286.3" y="884.8" font-size="11.3" fill="#222">CK_5</text>
<text x="1255.8" y="895.3" font-size="11.3" fill="#222">CK_6</text>
<text x="1277.5" y="837.8" font-size="11.3" fill="#222">HFD_3</text>
<text x="1291.3" y="849.3" font-size="11.3" fill="#222">HFD_1</text>
<text x="1307.5" y="842.3" font-size="11.3" fill="#222">HFD_2</text>
<text x="1307.9" y="841.9" font-size="11.3" fill="#222">HFD_6</text>
<text x="1298.0" y="903.0" font-size="11.3" fill="#222">HFD_4</text>
<circle cx="1479.2" cy="567.9" r="8.4" fill="#ff0000"/>
<text x="1506" y="573.6999999999999" font-size="17.2">HFD</text>
<path d="M1470.2 599.5 L1488.2 599.5 L1479.2 584.3 Z" fill="#0000ff"/>
<text x="1506" y="598.3" font-size="17.2">LFD</text>
<path d="M1472.2 617.2 L1479.2 606.9 L1486.2 617.2 L1479.2 627.5 Z" fill="#007a00"/>
<text x="1506" y="623.0" font-size="17.2">XMX100</text>
<rect x="1471.7" y="634.5" width="15" height="15" fill="#ffff00"/>
<text x="1506" y="647.8" font-size="17.2">XMXN100</text>
</svg>
</body></html>
